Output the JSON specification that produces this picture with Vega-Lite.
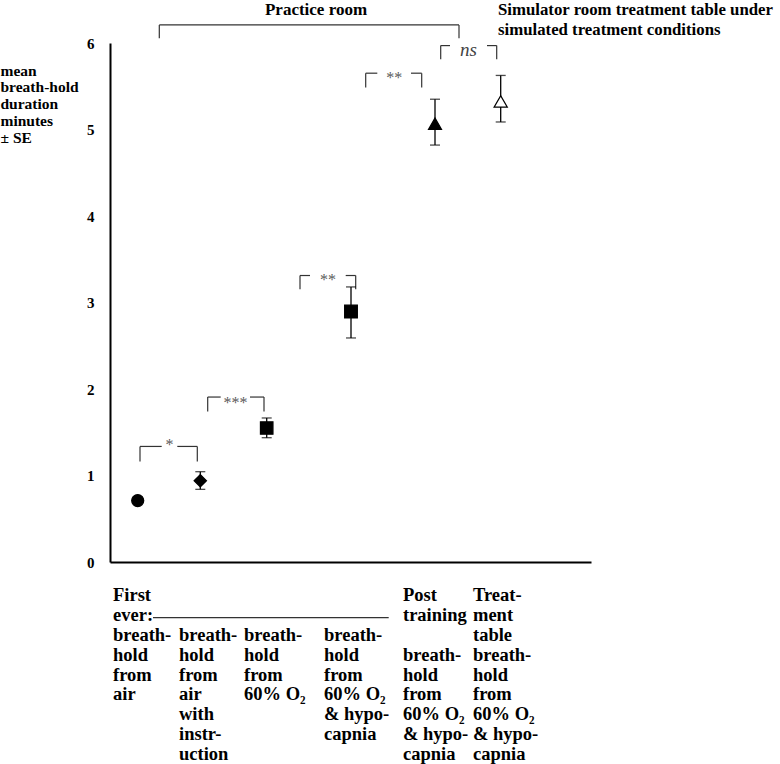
{
  "$schema": "https://vega.github.io/schema/vega-lite/v6.json",
  "autosize": {"type": "none"},
  "padding": {"left": 110, "top": 43, "right": 189, "bottom": 202},
  "width": 481,
  "height": 519,
  "background": "white",
  "config": {
    "view": {"stroke": null},
    "text": {"font": "Liberation Serif"}
  },
  "datasets": {
    "points": [
      {"cond": "First ever: breath-hold from air", "x": 2.77, "y": 0.71, "lo": 0.69, "hi": 0.73},
      {"cond": "breath-hold from air with instruction", "x": 9.03, "y": 0.94, "lo": 0.84, "hi": 1.044},
      {"cond": "breath-hold from 60% O2", "x": 15.67, "y": 1.549, "lo": 1.437, "hi": 1.665},
      {"cond": "breath-hold from 60% O2 & hypocapnia", "x": 24.1, "y": 2.897, "lo": 2.59, "hi": 3.18},
      {"cond": "Post training breath-hold from 60% O2 & hypocapnia", "x": 32.5, "y": 5.067, "lo": 4.82, "hi": 5.35},
      {"cond": "Treatment table breath-hold from 60% O2 & hypocapnia", "x": 39.07, "y": 5.325, "lo": 5.087, "hi": 5.625}
    ],
    "majorTicks": [
      {"y": 0}, {"y": 1}, {"y": 2}, {"y": 3}, {"y": 4}, {"y": 5}, {"y": 6}
    ],
    "minorTicks": [
      {"y": 0.5}, {"y": 1.5}, {"y": 2.5}, {"y": 3.5}, {"y": 4.5}, {"y": 5.5}
    ],
    "segs": [
      {"x": 3.0, "x2": 3.0, "y": 1.336, "y2": 1.163},
      {"x": 8.73, "x2": 8.73, "y": 1.336, "y2": 1.163},
      {"x": 3.0, "x2": 5.17, "y": 1.336, "y2": 1.336},
      {"x": 6.73, "x2": 8.73, "y": 1.336, "y2": 1.336},
      {"x": 9.77, "x2": 9.77, "y": 1.907, "y2": 1.74},
      {"x": 15.4, "x2": 15.4, "y": 1.907, "y2": 1.74},
      {"x": 9.77, "x2": 11.07, "y": 1.907, "y2": 1.907},
      {"x": 14.0, "x2": 15.4, "y": 1.907, "y2": 1.907},
      {"x": 19.0, "x2": 19.0, "y": 3.312, "y2": 3.153},
      {"x": 24.57, "x2": 24.57, "y": 3.312, "y2": 3.153},
      {"x": 19.0, "x2": 20.0, "y": 3.312, "y2": 3.312},
      {"x": 23.57, "x2": 24.57, "y": 3.312, "y2": 3.312},
      {"x": 25.57, "x2": 25.57, "y": 5.651, "y2": 5.485},
      {"x": 31.17, "x2": 31.17, "y": 5.651, "y2": 5.485},
      {"x": 25.57, "x2": 26.73, "y": 5.651, "y2": 5.651},
      {"x": 30.1, "x2": 31.17, "y": 5.651, "y2": 5.651},
      {"x": 33.07, "x2": 33.07, "y": 5.97, "y2": 5.813},
      {"x": 38.67, "x2": 38.67, "y": 5.97, "y2": 5.813},
      {"x": 33.07, "x2": 34.0, "y": 5.97, "y2": 5.97},
      {"x": 37.7, "x2": 38.67, "y": 5.97, "y2": 5.97},
      {"x": 4.93, "x2": 4.93, "y": 6.209, "y2": 6.056},
      {"x": 34.9, "x2": 34.9, "y": 6.209, "y2": 6.056},
      {"x": 4.93, "x2": 34.9, "y": 6.209, "y2": 6.209},
      {"x": 4.3, "x2": 27.87, "y": -0.644, "y2": -0.644}
    ],
    "stars": [
      {"x": 5.95, "y": 1.292, "label": "*"},
      {"x": 12.54, "y": 1.785, "label": "***"},
      {"x": 21.79, "y": 3.207, "label": "**"},
      {"x": 28.42, "y": 5.541, "label": "**"}
    ],
    "ns": [
      {"x": 35.85, "y": 5.845, "label": "ns"}
    ],
    "headC": [
      {"x": 20.6, "y": 6.383, "label": "Practice room"}
    ],
    "headL": [
      {"x": 38.8, "y": 6.383, "label": "Simulator room treatment table under"},
      {"x": 38.8, "y": 6.152, "label": "simulated treatment conditions"}
    ],
    "xlabels": [
      {"x": 0.3, "y": -0.455, "label": "First\never:\nbreath-\nhold\nfrom\nair"},
      {"x": 6.9, "y": -0.913, "label": "breath-\nhold\nfrom\nair\nwith\ninstr-\nuction"},
      {"x": 13.4, "y": -0.913, "label": "breath-\nhold\nfrom\n60% O₂"},
      {"x": 21.4, "y": -0.913, "label": "\u00a0breath-\nhold\nfrom\n\u00a060% O₂\n& hypo-\ncapnia"},
      {"x": 29.3, "y": -0.455, "label": "Post\ntraining"},
      {"x": 29.3, "y": -1.142, "label": "breath-\nhold\n\u00a0from\n60% O₂\n& hypo-\ncapnia"},
      {"x": 36.3, "y": -0.455, "label": "Treat-\nment\ntable\nbreath-\nhold\n\u00a0from\n60% O₂\n& hypo-\ncapnia"}
    ]
  },
  "encoding": {
    "x": {
      "field": "x", "type": "quantitative",
      "scale": {"domain": [0, 48.1], "nice": false, "zero": false},
      "axis": {"title": null, "labels": false, "ticks": false, "grid": false, "domainColor": "black", "domainWidth": 2}
    },
    "y": {
      "field": "y", "type": "quantitative",
      "scale": {"domain": [0, 6], "nice": false},
      "axis": {
        "title": ["mean", "breath-hold", "duration", "minutes", "± SE"],
        "titleAngle": 0, "titleAlign": "left", "titleBaseline": "alphabetic",
        "titleX": -110, "titleY": 32, "titleFont": "Liberation Serif", "titleFontSize": 15.5,
        "titleFontWeight": "bold", "titleLineHeight": 16.8, "titleColor": "black",
        "values": [0, 1, 2, 3, 4, 5, 6],
        "format": "d",
        "labelFont": "Liberation Serif", "labelFontSize": 15, "labelFontWeight": "bold", "labelColor": "black",
        "labelPadding": 16,
        "grid": false, "domainColor": "black", "domainWidth": 2,
        "ticks": false
      }
    }
  },
  "layer": [
    {
      "data": {"name": "majorTicks"},
      "mark": {"type": "tick", "orient": "horizontal", "color": "black", "size": 5, "thickness": 2},
      "encoding": {"x": {"datum": 0.25}}
    },
    {
      "data": {"name": "minorTicks"},
      "mark": {"type": "tick", "orient": "horizontal", "color": "black", "size": 2.5, "thickness": 1.5},
      "encoding": {"x": {"datum": 0.125}}
    },
    {
      "data": {"name": "segs"},
      "mark": {"type": "rule", "color": "#333333", "strokeWidth": 1.2, "clip": false},
      "encoding": {"x2": {"field": "x2"}, "y2": {"field": "y2"}}
    },
    {
      "data": {"name": "points"},
      "mark": {"type": "rule", "color": "black", "strokeWidth": 1.3},
      "encoding": {"y": {"field": "lo", "type": "quantitative"}, "y2": {"field": "hi"}}
    },
    {
      "data": {"name": "points"},
      "mark": {"type": "tick", "orient": "horizontal", "color": "black", "size": 10, "thickness": 1.3},
      "encoding": {"y": {"field": "lo", "type": "quantitative"}}
    },
    {
      "data": {"name": "points"},
      "mark": {"type": "tick", "orient": "horizontal", "color": "black", "size": 10, "thickness": 1.3},
      "encoding": {"y": {"field": "hi", "type": "quantitative"}}
    },
    {
      "data": {"name": "points"},
      "mark": {"type": "point", "filled": true, "stroke": "black", "strokeWidth": 1.3, "opacity": 1},
      "encoding": {
        "shape": {"field": "cond", "type": "nominal", "legend": null,
          "scale": {"domain": ["First ever: breath-hold from air", "breath-hold from air with instruction", "breath-hold from 60% O2", "breath-hold from 60% O2 & hypocapnia", "Post training breath-hold from 60% O2 & hypocapnia", "Treatment table breath-hold from 60% O2 & hypocapnia"],
            "range": ["circle", "diamond", "square", "square", "triangle-up", "triangle-up"]}},
        "fill": {"field": "cond", "type": "nominal", "legend": null,
          "scale": {"domain": ["First ever: breath-hold from air", "breath-hold from air with instruction", "breath-hold from 60% O2", "breath-hold from 60% O2 & hypocapnia", "Post training breath-hold from 60% O2 & hypocapnia", "Treatment table breath-hold from 60% O2 & hypocapnia"],
            "range": ["black", "black", "black", "black", "black", "white"]}},
        "size": {"field": "cond", "type": "nominal", "legend": null,
          "scale": {"domain": ["First ever: breath-hold from air", "breath-hold from air with instruction", "breath-hold from 60% O2", "breath-hold from 60% O2 & hypocapnia", "Post training breath-hold from 60% O2 & hypocapnia", "Treatment table breath-hold from 60% O2 & hypocapnia"],
            "range": [144, 170, 144, 137, 190, 180]}}
      }
    },
    {
      "data": {"name": "stars"},
      "mark": {"type": "text", "font": "Liberation Serif", "fontSize": 16, "color": "#5a5a5a", "align": "center", "baseline": "alphabetic", "clip": false},
      "encoding": {"text": {"field": "label"}}
    },
    {
      "data": {"name": "ns"},
      "mark": {"type": "text", "font": "Liberation Serif", "fontSize": 19, "fontStyle": "italic", "color": "#444444", "align": "center", "baseline": "alphabetic", "clip": false},
      "encoding": {"text": {"field": "label"}}
    },
    {
      "data": {"name": "headC"},
      "mark": {"type": "text", "font": "Liberation Serif", "fontSize": 17, "fontWeight": "bold", "color": "black", "align": "center", "baseline": "middle", "clip": false},
      "encoding": {"text": {"field": "label"}}
    },
    {
      "data": {"name": "headL"},
      "mark": {"type": "text", "font": "Liberation Serif", "fontSize": 16.8, "fontWeight": "bold", "color": "black", "align": "left", "baseline": "middle", "clip": false},
      "encoding": {"text": {"field": "label"}}
    },
    {
      "data": {"name": "xlabels"},
      "mark": {"type": "text", "font": "Liberation Serif", "fontSize": 18.5, "fontWeight": "bold", "color": "black", "align": "left", "baseline": "alphabetic", "lineBreak": "\n", "lineHeight": 19.8, "clip": false},
      "encoding": {"text": {"field": "label"}}
    }
  ]
}
